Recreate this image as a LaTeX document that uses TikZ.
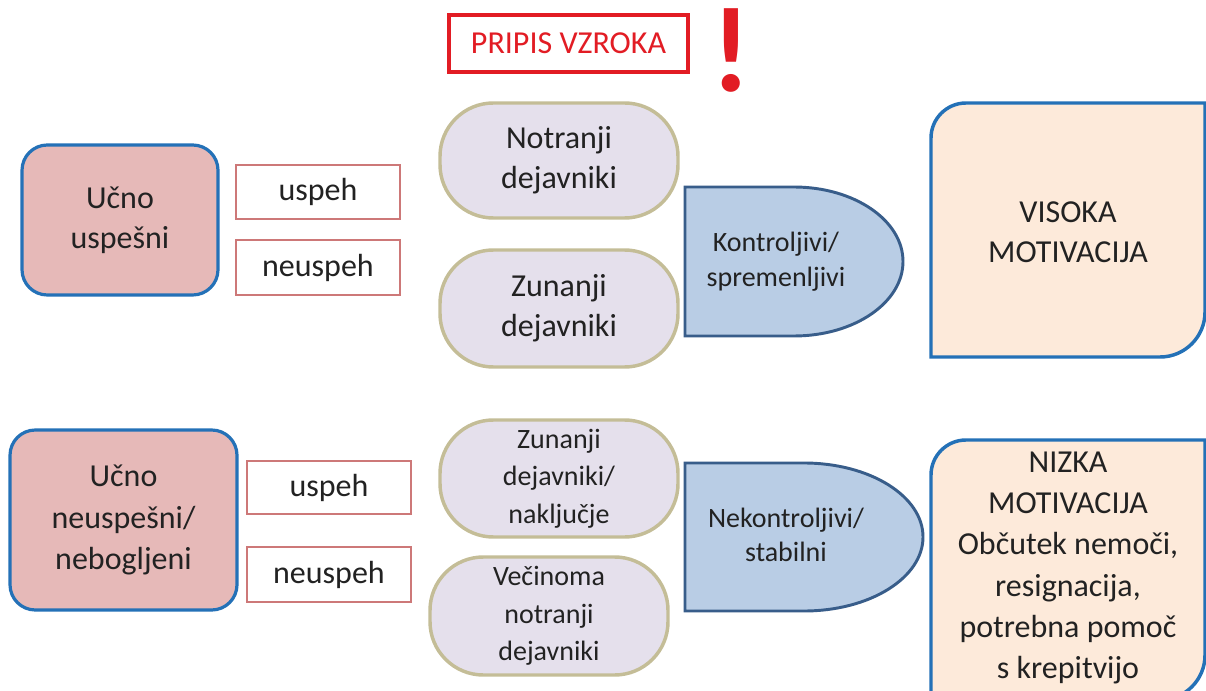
\documentclass[tikz,border=0pt]{standalone}
\usepackage{fontspec}
\setmainfont{Carlito}
\usetikzlibrary{positioning}

\definecolor{titlered}{RGB}{226,28,36}
\definecolor{frameblue}{RGB}{36,113,183}
\definecolor{pinkfill}{RGB}{230,185,184}
\definecolor{wordred}{RGB}{205,120,120}
\definecolor{lavfill}{RGB}{229,224,236}
\definecolor{olivedraw}{RGB}{196,189,151}
\definecolor{typefill}{RGB}{185,205,229}
\definecolor{typedraw}{RGB}{56,93,138}
\definecolor{peachfill}{RGB}{253,234,218}
\definecolor{textgray}{RGB}{34,34,34}

\tikzset{
  bigtext/.style={align=center,text=textgray,font=\fontsize{24}{30}\selectfont},
  smalltext/.style={align=center,text=textgray,font=\fontsize{21}{27}\selectfont},
  groupbox/.style={bigtext,draw=frameblue,fill=pinkfill,line width=2.4pt,rounded corners=19pt,inner sep=0pt},
  wordbox/.style={bigtext,draw=wordred,fill=white,line width=0.9pt,minimum width=123pt,inner sep=0pt},
  factorbox/.style={draw=olivedraw,fill=lavfill,line width=2.6pt,rounded corners=40pt,
    minimum width=178.5pt,inner sep=0pt},
  typebox/.style={draw=typedraw,fill=typefill,line width=2.2pt},
  motivbox/.style={draw=frameblue,fill=peachfill,line width=2.6pt},
}

\begin{document}
\begin{tikzpicture}[x=0.75pt,y=-0.75pt]
  \useasboundingbox (0,0) rectangle (1206,691);
  \fill[white] (0,0) rectangle (1206,691);

  % title
  \node[draw=titlered,line width=3pt,minimum width=179.25pt,minimum height=42.75pt,
    text=titlered,font=\fontsize{24}{30}\selectfont] (title) at (568.5,43.5) {PRIPIS VZROKA};
  \node[text=titlered,font=\bfseries\fontsize{91}{91}\selectfont,anchor=base] (bang) at (731,92) {!};

  % upper row
  \node[groupbox,minimum width=147pt,minimum height=112.5pt] (succ) at (120,220) {Učno\\uspešni};
  \node[wordbox,minimum height=40.5pt] (succyes) at (318,192) {uspeh};
  \node[wordbox,minimum height=41.25pt] (succno) at (318,267.5) {neuspeh};
  \node[factorbox,minimum height=86.25pt,bigtext] (inner) at (559,160.5) {Notranji\\dejavniki};
  \node[factorbox,minimum height=87.75pt,bigtext] (outer) at (559,308.5) {Zunanji\\dejavniki};
  \draw[typebox] (685,187) -- (794,187)
    arc[start angle=270,end angle=450,x radius=109,y radius=74.5] -- (685,336) -- cycle;
  \node[smalltext,font=\fontsize{21}{26}\selectfont] (control) at (776,262) {Kontroljivi/\\spremenljivi};
  \draw[motivbox] (931,357) -- (931,138) arc[start angle=180,end angle=270,radius=35]
    -- (1205,103) -- (1205,312) arc[start angle=0,end angle=90,radius=45] -- cycle;
  \node[bigtext] (high) at (1068,232) {VISOKA\\MOTIVACIJA};

  % lower row
  \node[groupbox,minimum width=170.25pt,minimum height=135pt,font=\fontsize{24}{31}\selectfont]
    (fail) at (123.5,520) {Učno\\neuspešni/\\nebogljeni};
  \node[wordbox,minimum height=39.75pt] (failyes) at (329,487.5) {uspeh};
  \node[wordbox,minimum height=41.25pt] (failno) at (329,574.5) {neuspeh};
  \node[factorbox,minimum height=87.75pt,smalltext,font=\fontsize{21}{28}\selectfont]
    (chance) at (559,478.5) {Zunanji\\dejavniki/\\naključje};
  \node[factorbox,minimum height=88.5pt,smalltext,font=\fontsize{21}{28}\selectfont]
    (mostly) at (549,616) {Večinoma\\notranji\\dejavniki};
  \draw[typebox] (685,463) -- (804,463)
    arc[start angle=270,end angle=450,x radius=119,y radius=74] -- (685,611) -- cycle;
  \node[smalltext,font=\fontsize{21}{26}\selectfont] (nocontrol) at (786,535) {Nekontroljivi/\\stabilni};
  \draw[motivbox] (931,700) -- (931,475) arc[start angle=180,end angle=270,radius=35]
    -- (1205,440) -- (1205,655) arc[start angle=0,end angle=90,radius=45] -- cycle;
  \node[bigtext,font=\fontsize{24}{31}\selectfont] (low) at (1068,568)
    {NIZKA\\MOTIVACIJA\\Občutek nemoči,\\resignacija,\\potrebna pomoč\\s krepitvijo};
\end{tikzpicture}
\end{document}
